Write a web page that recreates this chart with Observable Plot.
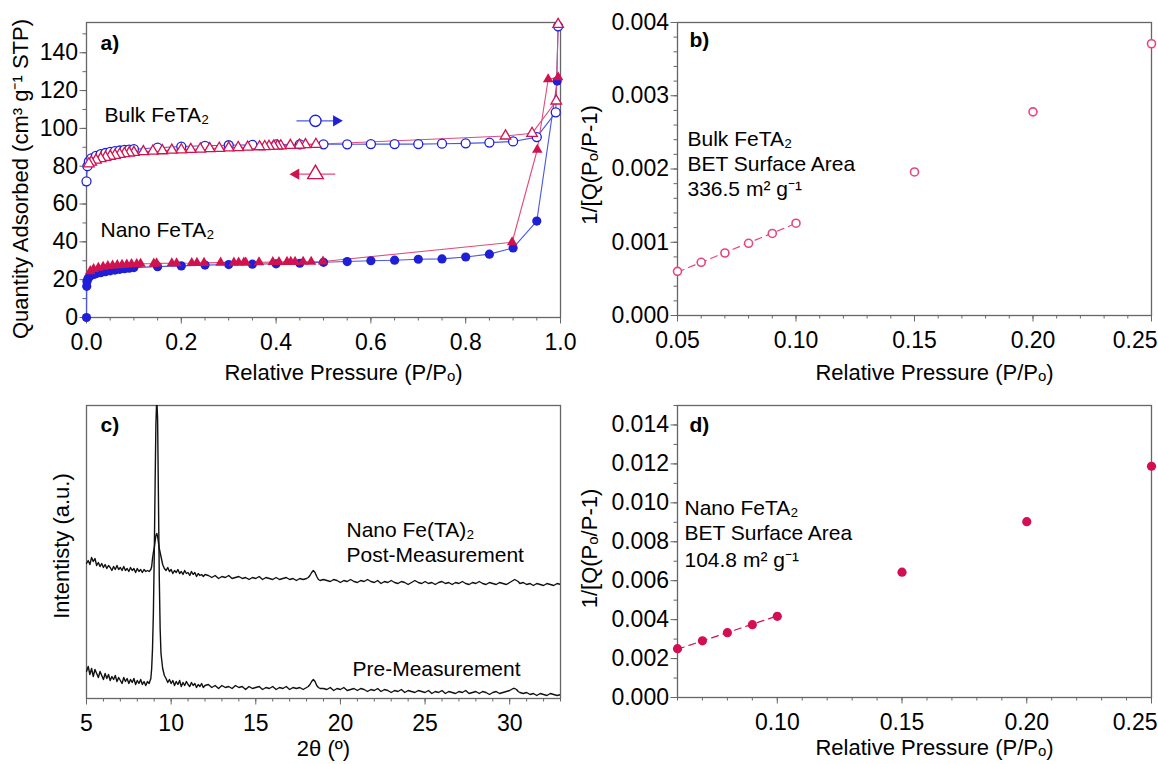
<!DOCTYPE html>
<html><head><meta charset="utf-8">
<script src="https://cdn.jsdelivr.net/npm/d3@7"></script>
<script src="https://cdn.jsdelivr.net/npm/@observablehq/plot@0.6"></script>
<style>
body{margin:0;background:#fff;}
#wrap{position:relative;width:1158px;height:764px;overflow:hidden;background:#fff;}
.panel{position:absolute;}
</style></head><body><div id="wrap">
<div class="panel" id="pa" style="left:0;top:0"></div>
<div class="panel" id="pb" style="left:580px;top:0"></div>
<div class="panel" id="pc" style="left:0;top:390px"></div>
<div class="panel" id="pd" style="left:580px;top:390px"></div>
</div>
<script>
// ---------- Panel a: N2 isotherms ----------
const bulkAdsX = [0.0,0.002,0.005,0.01,0.02,0.03,0.04,0.05,0.06,0.07,0.08,0.09,0.1,0.15,0.2,0.25,0.3,0.35,0.4,0.45,0.5,0.55,0.6,0.65,0.7,0.75,0.8,0.85,0.9,0.95,0.99,0.995];
const bulkAdsY = [72,80,82.5,84.2,85.5,86.4,87,87.6,88,88.3,88.6,88.8,89,89.8,90.4,90.8,91.1,91.3,91.5,91.6,91.6,91.6,91.7,91.7,91.7,91.9,92.1,92.5,93.1,95.4,108.5,154];
const bulkDesX = [0.995,0.991,0.94,0.884,0.484,0.462,0.449,0.43,0.41,0.403,0.395,0.385,0.376,0.365,0.34,0.32,0.3,0.28,0.26,0.24,0.22,0.2,0.18,0.16,0.14,0.12,0.1,0.09,0.08,0.07,0.06,0.05,0.04,0.03,0.02,0.01,0.005];
const bulkDesY = [155,114.5,97.4,96,91.6,91.4,91.2,91.0,90.8,90.7,90.6,90.5,90.4,90.3,90.1,89.9,89.7,89.5,89.3,89.1,88.9,88.7,88.5,88.2,88.0,87.7,87.3,87.0,86.7,86.3,85.8,85.3,84.7,84.0,83.2,82.2,81.3];
const nanoAdsX = [0.0,0.0005,0.001,0.003,0.006,0.01,0.015,0.02,0.03,0.04,0.05,0.06,0.07,0.08,0.09,0.1,0.15,0.2,0.25,0.3,0.35,0.4,0.45,0.5,0.55,0.6,0.65,0.7,0.75,0.8,0.85,0.9,0.95,0.993];
const nanoAdsY = [0,16.5,19,20.5,21.5,22.3,22.8,23.2,23.7,24.2,24.7,25.1,25.5,25.8,26.1,26.4,26.9,27.3,27.7,28,28.2,28.4,28.7,29.2,29.6,30,30.3,30.8,31,32,33.5,36.8,51,125];
const nanoDesX = [0.995,0.974,0.951,0.898,0.499,0.474,0.457,0.44,0.431,0.423,0.406,0.393,0.364,0.336,0.332,0.321,0.311,0.283,0.248,0.233,0.222,0.19,0.18,0.148,0.142,0.114,0.106,0.095,0.085,0.075,0.065,0.055,0.045,0.035,0.025,0.015,0.008];
const nanoDesY = [127,126,88.7,39.8,29.6,29.5,29.5,29.4,29.4,29.4,29.3,29.3,29.2,29.1,29.1,29.1,29.0,29.0,28.9,28.9,28.8,28.7,28.7,28.6,28.5,28.4,28.3,28.2,28.0,27.9,27.7,27.5,27.2,26.8,26.3,25.6,24.5];
const aXTicks = [0,0.2,0.4,0.6,0.8,1.0];
const aXLabels = ["0.0","0.2","0.4","0.6","0.8","1.0"];
const aXMinor = [0,0.05,0.1,0.15,0.2,0.25,0.3,0.35,0.4,0.45,0.5,0.55,0.6,0.65,0.7,0.75,0.8,0.85,0.9,0.95,1.0];
const aYTicks = [0,20,40,60,80,100,120,140];
const aYLabels = ["0","20","40","60","80","100","120","140"];
const aYMinor = [0,10,20,30,40,50,60,70,80,90,100,110,120,130,140,150];

// ---------- Panel b: BET plot, bulk ----------
const bX = [0.05,0.06,0.07,0.08,0.09,0.10,0.15,0.20,0.25];
const bY = [0.000603,0.000726,0.000853,0.000986,0.00112,0.00126,0.00196,0.00278,0.00371];
const bFitX = [0.05,0.10];
const bFitY = [0.000592,0.001258];
const bXTicks = [0.05,0.10,0.15,0.20,0.25];
const bXLabels = ["0.05","0.10","0.15","0.20","0.25"];
const bXMinor = [0.05,0.06,0.07,0.08,0.09,0.10,0.11,0.12,0.13,0.14,0.15,0.16,0.17,0.18,0.19,0.20,0.21,0.22,0.23,0.24,0.25];
const bYTicks = [0,0.001,0.002,0.003,0.004];
const bYLabels = ["0.000","0.001","0.002","0.003","0.004"];
const bYMinor = [0,0.0002,0.0004,0.0006,0.0008,0.001,0.0012,0.0014,0.0016,0.0018,0.002,0.0022,0.0024,0.0026,0.0028,0.003,0.0032,0.0034,0.0036,0.0038,0.004];

// ---------- Panel c: PXRD ----------
const twoTheta = [5.0,5.1,5.2,5.3,5.4,5.5,5.6,5.7,5.8,5.9,6.0,6.1,6.2,6.3,6.4,6.5,6.6,6.7,6.8,6.9,7.0,7.1,7.2,7.3,7.4,7.5,7.6,7.7,7.8,7.9,8.0,8.1,8.2,8.3,8.4,8.5,8.6,8.7,8.8,
 8.85,8.9,8.95,9.0,9.05,9.1,9.15,9.2,9.25,9.3,9.35,9.4,
 9.5,9.6,9.7,9.8,9.9,10.0,10.1,10.2,10.3,10.4,10.5,10.6,10.7,10.8,10.9,11.0,11.1,11.2,11.3,11.4,11.5,11.6,11.7,11.8,11.9,12.0,
 12.2,12.4,12.6,12.8,13.0,13.2,13.4,13.6,13.8,14.0,14.2,14.4,14.6,14.8,15.0,15.2,15.4,15.6,15.8,16.0,16.2,16.4,16.6,16.8,17.0,17.2,17.4,17.6,17.8,18.0,
 18.1,18.2,18.3,18.4,18.5,18.6,18.7,18.8,
 19.0,19.2,19.4,19.6,19.8,20.0,20.2,20.4,20.6,20.8,21.0,21.2,21.4,21.6,21.8,22.0,22.2,22.4,22.6,22.8,23.0,23.2,23.4,23.6,23.8,24.0,24.2,24.4,24.6,24.8,25.0,25.2,25.4,25.6,25.8,26.0,26.2,26.4,26.6,26.8,27.0,27.2,27.4,27.6,27.8,28.0,28.2,28.4,28.6,28.8,29.0,29.2,29.4,29.6,29.8,30.0,
 30.1,30.2,30.3,30.4,30.5,30.6,
 30.8,31.0,31.2,31.4,31.6,31.8,32.0,32.2,32.4,32.6,32.8,33.0];
const preIntensity = [27,32,24,30,22,29,25,21,27,23,19,25,20,24,18,22,19,23,17,21,18,15,21,17,20,15,19,16,20,14,18,15,19,14,17,13,17,15,20,
 30,50,85,140,210,275,300,280,200,120,70,45,
 30,23,20,16,19,15,18,13,17,14,18,12,16,13,17,14,12,16,13,15,11,14,12,15,11,13,
 14,11,13,10,13,11,12,10,13,11,12,9,12,10,11,12,9,11,10,12,9,11,10,12,9,11,10,11,9,11,
 12,14,17,19,17,13,11,10,
 10,9,11,8,10,9,11,8,9,10,8,10,9,7,9,8,10,7,9,8,6,8,7,9,6,8,7,6,8,7,6,8,5,7,6,8,5,7,6,5,7,6,8,5,6,7,5,7,6,4,6,7,5,6,7,8,
 9,10,10,9,7,6,
 5,6,4,5,3,5,4,3,5,4,3,4];
const postIntensity = [135,138,134,141,137,140,133,136,132,135,131,134,130,133,131,128,132,129,133,129,131,128,132,128,130,127,131,128,130,126,130,127,129,126,129,127,128,127,129,
 132,140,146,150,157,163,165,162,156,150,146,142,
 134,130,128,131,127,129,125,128,126,129,125,127,124,128,125,126,123,127,124,126,122,125,123,124,122,124,
 123,121,123,120,122,121,123,120,121,122,120,121,119,121,120,122,119,121,120,119,121,119,120,121,119,120,118,120,119,120,
 121,123,126,128,126,122,119,118,
 119,118,117,119,118,116,118,117,119,117,116,118,117,119,117,116,118,115,117,116,118,116,115,117,116,114,116,118,116,115,117,115,116,114,116,117,115,116,114,116,115,117,115,114,116,115,117,115,114,116,115,114,116,115,114,116,
 117,118,119,118,117,115,
 116,114,115,113,115,114,113,115,114,113,115,114];
const cXTicks = [5,10,15,20,25,30];
const cXLabels = ["5","10","15","20","25","30"];
const cXMinor = [5,6,7,8,9,10,11,12,13,14,15,16,17,18,19,20,21,22,23,24,25,26,27,28,29,30,31,32,33];

// ---------- Panel d: BET plot, nano ----------
const dX = [0.06,0.07,0.08,0.09,0.10,0.15,0.20,0.25];
const dY = [0.00251,0.00291,0.00333,0.00374,0.00417,0.00644,0.00903,0.01188];
const dFitX = [0.06,0.10];
const dFitY = [0.00248,0.00419];
const dXTicks = [0.10,0.15,0.20,0.25];
const dXLabels = ["0.10","0.15","0.20","0.25"];
const dXMinor = [0.06,0.07,0.08,0.09,0.10,0.11,0.12,0.13,0.14,0.15,0.16,0.17,0.18,0.19,0.20,0.21,0.22,0.23,0.24,0.25];
const dYTicks = [0,0.002,0.004,0.006,0.008,0.010,0.012,0.014];
const dYLabels = ["0.000","0.002","0.004","0.006","0.008","0.010","0.012","0.014"];
const dYMinor = [0,0.001,0.002,0.003,0.004,0.005,0.006,0.007,0.008,0.009,0.010,0.011,0.012,0.013,0.014,0.015];

// ---------- styling ----------
const FONT = "'Liberation Sans', Arial, Helvetica, sans-serif";
const baseStyle = {fontFamily: FONT, fontSize: "21px", background: "transparent", overflow: "visible", color: "#000"};
const AX = "#666";
const TICKFONT = 23, TITLEFONT = 22;
const BLUE = "#1f1fd8", BLUE_L = "#4a58e2";
const PINK = "#d0134f", PINK_L = "#e14c7a";
const PINK_B = "#e8457c", PINK_D = "#d30e55";

const zip = (xs, ys) => xs.map((x, i) => ({x, y: ys[i]}));
const none = () => "";

// edgeLast: the last x tick label sits at the picture edge, so it is right-aligned there
function axes(xT, xL, xM, yT, yL, yM, edgeLast = false) {
  const lastX = xT[xT.length - 1];
  const m = [
    Plot.axisX(xM, {tickSize: 3.5, tickFormat: none, label: null, stroke: AX}),
    Plot.axisX(xT, {tickSize: 6.5, tickPadding: 10, label: null, stroke: AX, fill: "#000", fontSize: TICKFONT,
      tickFormat: (d) => (edgeLast && d === lastX) ? "" : xL[xT.indexOf(d)]})
  ];
  if (edgeLast) {
    m.push(Plot.text([lastX], {x: (d) => d, frameAnchor: "bottom", dy: 25, dx: 6, textAnchor: "end",
      lineAnchor: "middle", text: (d) => xL[xT.indexOf(d)], fill: "#000", fontSize: TICKFONT}));
  }
  if (yT) {
    m.push(Plot.axisY(yM, {tickSize: 3.5, tickFormat: none, label: null, stroke: AX}));
    m.push(Plot.axisY(yT, {tickSize: 6.5, tickPadding: 2, tickFormat: (d) => yL[yT.indexOf(d)], label: null, stroke: AX, fill: "#000", fontSize: TICKFONT}));
  }
  return m;
}
const note = (s, dx, dy, extra = {}) => Plot.text([s], {frameAnchor: "top-left", dx, dy, textAnchor: "start", lineAnchor: "middle", fill: "#000", ...extra});
const xTitle = (s, dx, dy) => Plot.text([s], {frameAnchor: "bottom", dx, dy, textAnchor: "middle", lineAnchor: "middle", fill: "#000", fontSize: TITLEFONT});
const yTitle = (s, dx, dy) => Plot.text([s], {frameAnchor: "left", dx, dy, rotate: -90, textAnchor: "middle", lineAnchor: "middle", fill: "#000", fontSize: TITLEFONT});

// annotation arrows for panel a (in data units)
const adsArrow = {x1: 0.443, x2: 0.522, y: 104, marker: 0.483, head: 0.527};
const desArrow = {x1: 0.447, x2: 0.525, y: 75.8, marker: 0.483, head: 0.442};

// ---------- Panel a ----------
const pa = Plot.plot({
  width: 580, height: 390, marginLeft: 86, marginRight: 20, marginTop: 22, marginBottom: 73,
  style: baseStyle,
  x: {domain: [0, 1]}, y: {domain: [0, 156]},
  marks: [
    ...axes(aXTicks, aXLabels, aXMinor, aYTicks, aYLabels, aYMinor),
    Plot.frame({stroke: AX, strokeWidth: 1.3}),
    Plot.line(zip(bulkAdsX, bulkAdsY), {x: "x", y: "y", stroke: BLUE_L, strokeWidth: 1.1}),
    Plot.line(zip(nanoAdsX, nanoAdsY), {x: "x", y: "y", stroke: BLUE_L, strokeWidth: 1.1}),
    Plot.line(zip(bulkDesX, bulkDesY), {x: "x", y: "y", stroke: PINK_L, strokeWidth: 1.1}),
    Plot.line(zip(nanoDesX, nanoDesY), {x: "x", y: "y", stroke: PINK_L, strokeWidth: 1.1}),
    Plot.dot(zip(bulkAdsX, bulkAdsY), {x: "x", y: "y", r: 4.5, stroke: BLUE, strokeWidth: 1.3, fill: "white"}),
    Plot.dot(zip(bulkDesX, bulkDesY), {x: "x", y: "y", r: 3.9, symbol: "triangle", stroke: PINK, strokeWidth: 1.3, fill: "white"}),
    Plot.dot(zip(nanoAdsX, nanoAdsY), {x: "x", y: "y", r: 4.6, fill: BLUE}),
    Plot.dot(zip(nanoDesX, nanoDesY), {x: "x", y: "y", r: 3.9, symbol: "triangle", fill: PINK}),
    // legend arrows
    Plot.link([adsArrow], {x1: "x1", x2: "x2", y1: "y", y2: "y", stroke: BLUE_L, strokeWidth: 1.4}),
    Plot.dot([adsArrow], {x: "head", y: "y", r: 4.2, symbol: "triangle", rotate: 90, fill: BLUE}),
    Plot.dot([adsArrow], {x: "marker", y: "y", r: 5.6, stroke: BLUE, strokeWidth: 1.4, fill: "white"}),
    Plot.link([desArrow], {x1: "x1", x2: "x2", y1: "y", y2: "y", stroke: PINK_L, strokeWidth: 1.4}),
    Plot.dot([desArrow], {x: "head", y: "y", r: 4.2, symbol: "triangle", rotate: -90, fill: PINK}),
    Plot.dot([desArrow], {x: "marker", y: "y", r: 5.8, symbol: "triangle", stroke: PINK, strokeWidth: 1.4, fill: "white"}),
    note("a)", 14, 21, {fontWeight: "bold"}),
    note("Bulk FeTA₂", 18, 93),
    note("Nano FeTA₂", 14, 208),
    xTitle("Relative Pressure (P/Pₒ)", 20, 55),
    yTitle("Quantity Adsorbed (cm³ g⁻¹ STP)", -66, 9)
  ]
});
document.getElementById("pa").append(pa);

// ---------- Panel b ----------
const pb = Plot.plot({
  width: 578, height: 390, marginLeft: 97, marginRight: 7, marginTop: 22, marginBottom: 75,
  style: baseStyle,
  x: {domain: [0.05, 0.25]}, y: {domain: [0, 0.004]},
  marks: [
    ...axes(bXTicks, bXLabels, bXMinor, bYTicks, bYLabels, bYMinor, true),
    Plot.frame({stroke: AX, strokeWidth: 1.3}),
    Plot.line(zip(bFitX, bFitY), {x: "x", y: "y", stroke: PINK_B, strokeWidth: 1.2, strokeDasharray: "7,5"}),
    Plot.dot(zip(bX, bY), {x: "x", y: "y", r: 4, stroke: PINK_B, strokeWidth: 1.6, fill: "white"}),
    note("b)", 12, 18, {fontWeight: "bold"}),
    note("Bulk FeTA₂", 10, 117),
    note("BET Surface Area", 10, 142),
    note("336.5 m² g⁻¹", 10, 167),
    xTitle("Relative Pressure (P/Pₒ)", 20, 57),
    yTitle("1/[Q(Pₒ/P-1)", -88, -4)
  ]
});
document.getElementById("pb").append(pb);

// ---------- Panel c ----------
const pc = Plot.plot({
  width: 580, height: 374, marginLeft: 86, marginRight: 20, marginTop: 15, marginBottom: 66,
  style: baseStyle,
  x: {domain: [5, 33]}, y: {domain: [0, 293], axis: null},
  marks: [
    ...axes(cXTicks, cXLabels, cXMinor),
    Plot.frame({stroke: AX, strokeWidth: 1.3}),
    Plot.line(zip(twoTheta, preIntensity), {x: "x", y: "y", stroke: "#111", strokeWidth: 1.4, clip: true}),
    Plot.line(zip(twoTheta, postIntensity), {x: "x", y: "y", stroke: "#111", strokeWidth: 1.4, clip: true}),
    note("c)", 14, 20, {fontWeight: "bold"}),
    note("Nano Fe(TA)₂", 260, 125),
    note("Post-Measurement", 260, 150),
    note("Pre-Measurement", 266, 264),
    xTitle("2θ (º)", 0, 50),
    yTitle("Intentisty (a.u.)", -25, -6)
  ]
});
document.getElementById("pc").append(pc);

// ---------- Panel d ----------
const pd = Plot.plot({
  width: 578, height: 374, marginLeft: 97, marginRight: 7, marginTop: 15, marginBottom: 67,
  style: baseStyle,
  x: {domain: [0.06, 0.25]}, y: {domain: [0, 0.015]},
  marks: [
    ...axes(dXTicks, dXLabels, dXMinor, dYTicks, dYLabels, dYMinor, true),
    Plot.frame({stroke: AX, strokeWidth: 1.3}),
    Plot.line(zip(dFitX, dFitY), {x: "x", y: "y", stroke: PINK_D, strokeWidth: 1.2, strokeDasharray: "7,5"}),
    Plot.dot(zip(dX, dY), {x: "x", y: "y", r: 4.6, fill: PINK_D}),
    note("d)", 12, 20, {fontWeight: "bold"}),
    note("Nano FeTA₂", 7, 103),
    note("BET Surface Area", 7, 128),
    note("104.8 m² g⁻¹", 7, 155),
    xTitle("Relative Pressure (P/Pₒ)", 20, 50),
    yTitle("1/[Q(Pₒ/P-1)", -88, -3)
  ]
});
document.getElementById("pd").append(pd);
</script></body></html>
